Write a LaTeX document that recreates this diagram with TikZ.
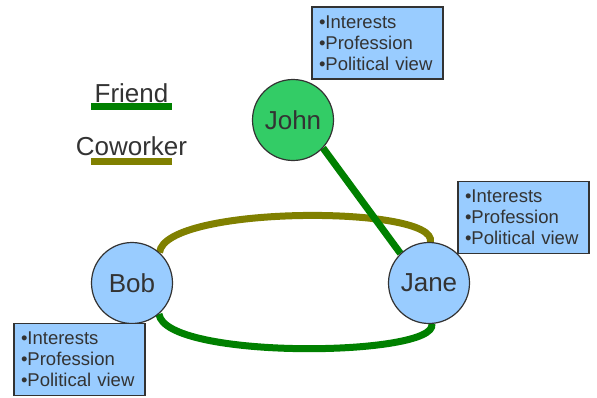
\documentclass[tikz,border=0pt]{standalone}
\usepackage{fontspec}
\setmainfont{Liberation Sans}
\definecolor{txt}{RGB}{51,51,51}
\definecolor{friendc}{RGB}{0,128,0}
\definecolor{coworkc}{RGB}{128,128,0}
\definecolor{bluefill}{RGB}{153,204,255}
\definecolor{greenfill}{RGB}{51,204,102}
\pgfdeclarelayer{bg}
\pgfsetlayers{bg,main}
\begin{document}
\begin{tikzpicture}[x=1pt,y=-1pt,
  person/.style={circle,draw=txt,line width=1.2pt,minimum size=81pt,inner sep=0pt,
    text=txt,font=\fontsize{26}{30}\selectfont},
  info/.style={rectangle,draw=txt,line width=1.3pt,fill=bluefill,minimum width=131pt,
    minimum height=72pt,text width=117pt,inner xsep=7pt,align=left,text=txt,
    font=\fontsize{18.5}{21}\selectfont},
  legtext/.style={text=txt,font=\fontsize{26}{30}\selectfont,inner sep=0pt},
  friend/.style={draw=friendc,line width=7pt},
  cowork/.style={draw=coworkc,line width=7pt}]
\useasboundingbox (0,0) rectangle (597,397);
% people
\node[person,fill=greenfill] (John) at (293,120) {John};
\node[person,fill=bluefill] (Jane) at (429,283) {Jane};
\node[person,fill=bluefill] (Bob) at (132,283) {Bob};
% info boxes
\node[info] (johninfo) at (377.5,43) {•Interests\\•Profession\\•Political view};
\node[info] (janeinfo) at (523.5,217.5) {•Interests\\•Profession\\•Political view};
\node[info] (bobinfo) at (79.5,359.5) {•Interests\\•Profession\\•Political view};
% legend
\node[legtext,anchor=base] (friendlbl) at (131.5,102) {Friend};
\node[legtext,anchor=base] (coworklbl) at (131.5,155) {Coworker};
\coordinate (fa) at (91,106.5);
\coordinate (fb) at (172,106.5);
\coordinate (ca) at (91,161);
\coordinate (cb) at (172,161);
\draw[friend] (fa) -- (fb);
\draw[cowork] (ca) -- (cb);
% connectors
\begin{pgfonlayer}{bg}
\draw[cowork] (Bob.48) .. controls (165,205) and (438,205) .. (Jane.88);
\draw[friend] (Bob.-49) .. controls (165,360) and (438,357) .. (Jane.-86);
\draw[friend] (John.-43) -- (Jane.134);
\end{pgfonlayer}
\end{tikzpicture}
\end{document}
